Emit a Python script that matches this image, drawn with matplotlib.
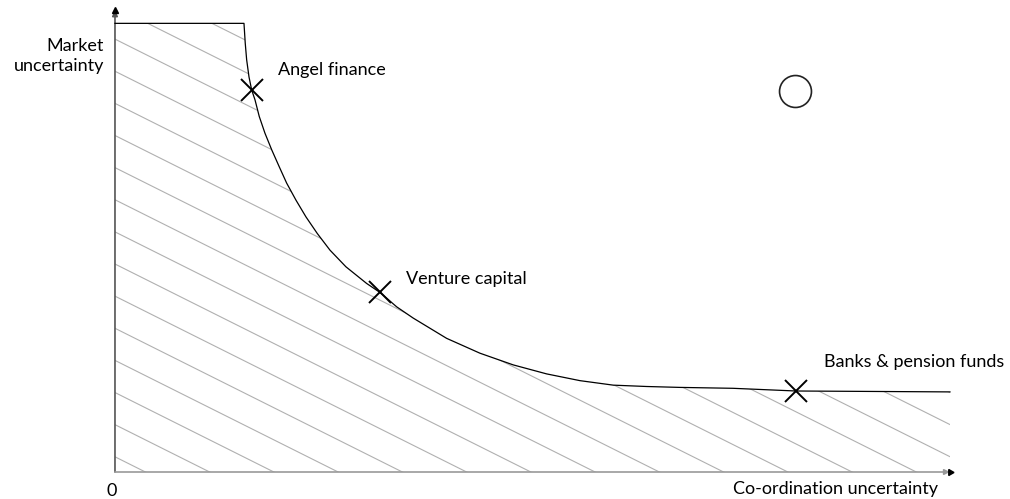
import numpy as np
import matplotlib
matplotlib.use("Agg")
import matplotlib.pyplot as plt

# frontier of financing (co-ordination uncertainty vs market uncertainty)
coord_unc = [0, 15.45, 15.60, 15.77, 16.05, 16.37, 16.77, 17.28, 17.96, 18.77,
             19.68, 20.56, 21.68, 22.87, 24.23, 25.75, 27.66, 30.14, 31.74,
             33.74, 35.72, 39.72, 43.71, 47.70, 51.70, 55.69, 59.68, 63.68,
             67.66, 74.01, 81.56, 100]
market_unc = [99.7, 99.7, 95.3, 91.6, 87.8, 84.9, 82.7, 79.0, 75.3, 71.6,
              67.8, 64.2, 60.4, 56.7, 53.0, 49.3, 45.6, 41.9, 39.9,
              36.7, 34.2, 29.7, 26.4, 23.8, 21.8, 20.3, 19.3, 19.0,
              18.8, 18.6, 18.0, 17.8]

# financing types sitting on the frontier
fin_names = ["Angel finance", "Venture capital", "Banks & pension funds"]
fin_x = [16.4, 31.7, 81.6]
fin_y = [84.9, 39.9, 18.0]
fin_label_x = [26.0, 42.1, 95.7]
fin_label_y = [89.3, 43.0, 24.4]

# the empty spot (no financing)
gap_x = [81.4]
gap_y = [84.7]


def main():
    plt.rcParams['font.family'] = ['Lato', 'DejaVu Sans']
    fig = plt.figure(figsize=(10.1, 4.99), dpi=100)
    ax = fig.add_axes([0, 0, 1, 1])
    ax.set_xlim(-13.77, 107.19)
    ax.set_ylim(-6.0, 104.89)
    ax.axis('off')

    # shaded area under the frontier
    xs = np.array(coord_unc)
    ys = np.array(market_unc)
    poly = ax.fill_between(xs, 0, ys, facecolor='none', edgecolor='none')
    clip = poly.get_paths()[0]

    slope = -0.928
    for c in np.arange(96.2 - 7.14 * 20, 96.2 + 7.14 * 3, 7.14):
        hx = np.array([0, 110])
        ln, = ax.plot(hx, c + slope * hx, color='#b0b0b0', lw=0.8, zorder=1)
        ln.set_clip_path(clip, ax.transData)

    ax.plot(xs, ys, color='black', lw=0.9, zorder=3)

    # axes with arrow heads
    ax.annotate('', xy=(0, 102.6), xytext=(0, 0),
                arrowprops=dict(arrowstyle='-|>', color='#555555', lw=1.2,
                                mutation_scale=8, shrinkA=0, shrinkB=0), zorder=2)
    ax.annotate('', xy=(100, 0), xytext=(0, 0),
                arrowprops=dict(arrowstyle='-|>', color='#999999', lw=1.2,
                                mutation_scale=8, shrinkA=0, shrinkB=0), zorder=2)
    ax.plot([100], [0], marker=(3, 0, -90), color='black', ms=5, zorder=4)
    ax.plot([0], [102.6], marker='^', color='black', ms=4, zorder=4)

    ax.plot(fin_x, fin_y, linestyle='none', marker='x', ms=16, mew=1.4,
            color='black', zorder=5)
    ax.plot(gap_x, gap_y, linestyle='none', marker='o', ms=23, mew=1.2,
            mfc='white', mec='#222222', zorder=5)

    for name, lx, ly in zip(fin_names, fin_label_x, fin_label_y):
        ax.text(lx, ly, name, ha='center', va='center', fontsize=13)

    ax.text(-1.3, 92.4, "Market\nuncertainty", ha='right', va='center',
            fontsize=13, linespacing=1.35)
    ax.text(-0.36, -4.2, "0", ha='center', va='center', fontsize=13)
    ax.text(86.3, -3.8, "Co-ordination uncertainty", ha='center', va='center',
            fontsize=13)

    fig.savefig('out.png', dpi=100)


if __name__ == '__main__':
    main()
